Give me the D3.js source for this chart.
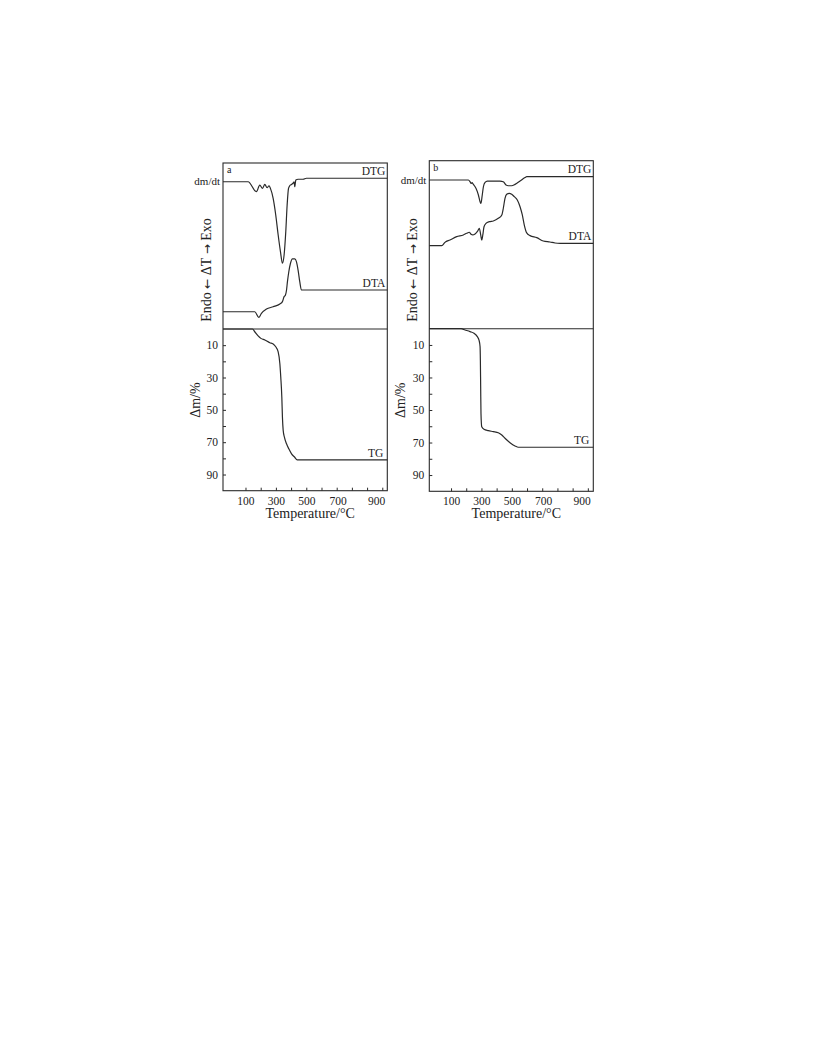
<!DOCTYPE html>
<html><head><meta charset="utf-8">
<script src="https://cdn.jsdelivr.net/npm/d3@7"></script>
<style>
body{margin:0;background:#fff}
text{font-family:"Liberation Serif","Times New Roman",serif;fill:#222}
</style>
</head><body>
<svg id="c" width="816" height="1056"></svg>
<script>
// ---------- data ----------
const xTicks = [100,200,300,400,500,600,700,800,900,1000];
const xTickLabels = [100,300,500,700,900];
const yTicks = [10,20,30,40,50,60,70,80,90];
const yTickLabels = [10,30,50,70,90];

// Panel a
const dtgA_T = [-48,117,172,194,212,227,242,255,264,282,299,315,330,343,354,365,374,383,391,403,413,420,424,431,446,479,501,1033];
const dtgA_v = [88.7,88.7,82.7,86.7,84.7,87.1,85.1,86.3,84.7,78.7,68.7,56.6,46.6,39.6,44.6,58.6,74.7,84.7,86.3,87.1,87.8,88.7,85.7,89.8,90.2,90.2,90.8,90.8];
const dtaA_T = [-48,161,187,205,238,282,326,343,354,363,370,376,385,396,409,424,435,446,457,468,1033];
const dtaA_v = [10.4,10.4,7.0,9.4,12.0,13.4,15.1,16.5,19.5,20.5,23.5,28.5,34.5,39.6,42.2,42.2,40.6,35.5,28.5,23.5,23.5];
const tgA_T = [-48,146,161,183,201,227,260,282,299,315,326,332,339,343,348,356,370,385,403,424,440,1033];
const tgA_v = [0,0,1.7,4.3,5.8,6.8,8.5,9.3,11,14.1,21.3,29.6,42,54.5,62.7,66.9,71,74.1,77.2,79.3,80.9,80.9];

// Panel b
const dtgB_T = [-43,214,225,232,238,247,264,280,291,297,304,313,324,339,378,422,444,462,477,499,521,554,587,598,1036];
const dtgB_v = [88.5,88.5,87.5,86.5,86.9,85.9,83.6,79.6,75.6,74.6,78.6,84.5,87.1,87.9,87.9,87.9,87.5,85.5,85.1,85.1,85.9,87.9,90.0,90.5,90.5];
const dtaB_T = [-43,39,60,93,137,181,203,220,232,243,258,276,286,295,302,309,317,330,352,378,411,434,444,455,466,484,499,516,536,554,569,582,598,620,664,707,751,784,817,1036];
const dtaB_v = [49.4,49.4,51.4,52.8,54.8,55.8,56.8,57.4,56.2,55.8,56.4,58.2,59.8,56.0,52.8,55.8,60.7,62.7,63.7,64.1,65.7,67.7,71.7,77.6,80.0,80.6,80.0,78.6,76.6,72.6,67.7,61.7,57.0,55.4,54.2,52.2,51.6,51.0,50.8,50.8];
const tgB_T = [-43,166,192,225,251,273,284,291,293,295,297,302,317,345,378,411,434,455,488,521,543,1036];
const tgB_v = [0,0,0.8,1.8,2.8,4.9,7.0,11,19.2,35.7,52,60.3,61.9,62.7,63.3,64,65.4,67.4,70.1,72.1,72.9,72.9];

// ---------- drawing ----------
const svg = d3.select("#c");
svg.append("rect").attr("width",816).attr("height",1056).attr("fill","#fff");

const panels = [
  {name:"a", left:223, right:387.3, top:163, bottom:490.7, div:329, xd:[-48,1033],
   dtg:[dtgA_T,dtgA_v], dta:[dtaA_T,dtaA_v], tg:[tgA_T,tgA_v],
   yTitleX:200, endoX:211},
  {name:"b", left:429.3, right:593.3, top:160.7, bottom:491.3, div:328.7, xd:[-43,1036],
   dtg:[dtgB_T,dtgB_v], dta:[dtaB_T,dtaB_v], tg:[tgB_T,tgB_v],
   yTitleX:405, endoX:417}
];

const ink = "#2a2a2a";
const tickFont = 11.5;

panels.forEach(p => {
  const g = svg.append("g");
  const x = d3.scaleLinear().domain(p.xd).range([p.left, p.right]);
  const yUp = d3.scaleLinear().domain([0,100]).range([p.div, p.top]);
  const yLo = d3.scaleLinear().domain([0,100]).range([p.div, p.bottom]);

  // frame
  g.append("rect").attr("x",p.left).attr("y",p.top)
    .attr("width",p.right-p.left).attr("height",p.bottom-p.top)
    .attr("fill","none").attr("stroke",ink).attr("stroke-width",1.1);
  g.append("line").attr("x1",p.left).attr("x2",p.right)
    .attr("y1",p.div).attr("y2",p.div).attr("stroke",ink).attr("stroke-width",1.1);

  // axes
  const xAxis = d3.axisBottom(x).tickValues(xTicks).tickSizeInner(-3).tickSizeOuter(0)
    .tickPadding(6).tickFormat(d => xTickLabels.includes(d) ? d : "");
  const xa = g.append("g").attr("transform",`translate(0,${p.bottom})`).call(xAxis);
  xa.select(".domain").remove();
  xa.selectAll("line").attr("stroke",ink);
  xa.selectAll("text").attr("font-size",tickFont).attr("font-family","Liberation Serif").attr("fill","#222")
    .attr("dx", d => d === 900 ? 9 : (d === 700 ? 1 : 0));

  const yAxis = d3.axisLeft(yLo).tickValues(yTicks).tickSizeInner(-3).tickSizeOuter(0)
    .tickPadding(5).tickFormat(d => yTickLabels.includes(d) ? d : "");
  const ya = g.append("g").attr("transform",`translate(${p.left},0)`).call(yAxis);
  ya.select(".domain").remove();
  ya.selectAll("line").attr("stroke",ink);
  ya.selectAll("text").attr("font-size",tickFont).attr("font-family","Liberation Serif").attr("fill","#222");

  // curves
  const line = (ys) => d3.line().x(d => x(d[0])).y(d => ys(d[1])).curve(d3.curveMonotoneX);
  const draw = (arr, ys) => {
    const pts = arr[0].map((t,i) => [t, arr[1][i]]);
    g.append("path").attr("d", line(ys)(pts)).attr("fill","none")
      .attr("stroke",ink).attr("stroke-width",1.2).attr("stroke-linejoin","round");
  };
  draw(p.dtg, yUp);
  draw(p.dta, yUp);
  draw(p.tg, yLo);

  // labels
  const dtgEnd = p.dtg[1][p.dtg[1].length-1];
  const dtaEnd = p.dta[1][p.dta[1].length-1];
  const tgEnd = p.tg[1][p.tg[1].length-1];
  g.append("text").attr("x",p.right-2).attr("y",yUp(dtgEnd)-3.5).attr("text-anchor","end")
    .attr("font-size",11.5).text("DTG");
  g.append("text").attr("x",p.right-2).attr("y",yUp(dtaEnd)-3).attr("text-anchor","end")
    .attr("font-size",11.5).text("DTA");
  g.append("text").attr("x",p.right-4).attr("y",yLo(tgEnd)-3).attr("text-anchor","end")
    .attr("font-size",11.5).text("TG");
  g.append("text").attr("x",p.left+4).attr("y",p.top+10).attr("font-size",10).text(p.name);
  g.append("text").attr("x",p.left-3).attr("y",yUp(p.dtg[1][0])+3.5).attr("text-anchor","end")
    .attr("font-size",11).text("dm/dt");

  const endo = g.append("text").attr("transform",`translate(${p.endoX},270) rotate(-90)`)
    .attr("text-anchor","middle").attr("font-size",14);
  endo.append("tspan").text("Endo ");
  endo.append("tspan").attr("font-family","DejaVu Sans").attr("font-size",12).text("←");
  endo.append("tspan").text(" ΔT ");
  endo.append("tspan").attr("font-family","DejaVu Sans").attr("font-size",12).text("→");
  endo.append("tspan").text(" Exo");

  g.append("text").attr("transform",`translate(${p.yTitleX},${yLo(44)}) rotate(-90)`)
    .attr("text-anchor","middle").attr("font-size",14).text("Δm/%");
  g.append("text").attr("x",(p.left+p.right)/2+5).attr("y",p.bottom+27)
    .attr("text-anchor","middle").attr("font-size",14).text("Temperature/°C");
});
</script>
</body></html>
